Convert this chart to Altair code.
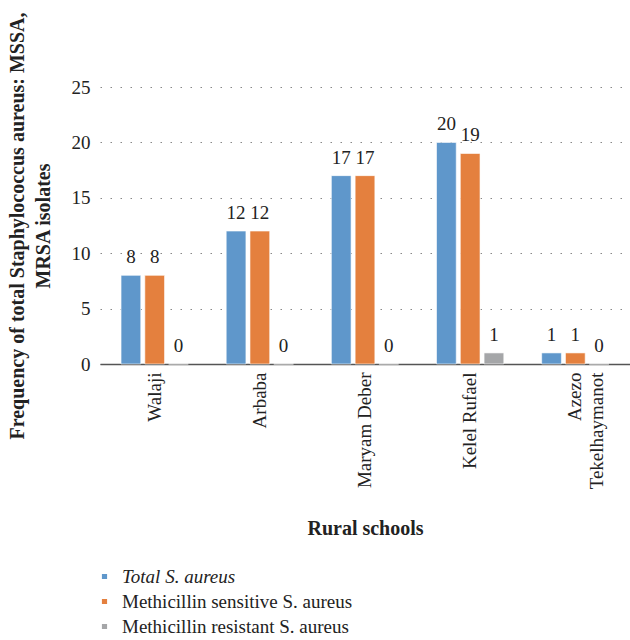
import altair as alt
import pandas as pd

schools = ["Walaji", "Arbaba", "Maryam Deber", "Kelel Rufael", "Azezo\nTekelhaymanot"]
series = ["Total S. aureus", "Methicillin sensitive S. aureus", "Methicillin resistant S. aureus"]
total = [8, 12, 17, 20, 1]
mssa = [8, 12, 17, 19, 1]
mrsa = [0, 0, 0, 1, 0]
colors = ["#5F97CB", "#E4803E", "#A5A6A8"]

rows = []
for i, s in enumerate(schools):
    for j, (name, vals) in enumerate(zip(series, [total, mssa, mrsa])):
        rows.append({"school": s, "series": name, "value": vals[i], "order": j})
df = pd.DataFrame(rows)

FONT = "Liberation Serif"
yscale = alt.Scale(domain=[0, 25], nice=False, zero=True)

x = alt.X("school:N", sort=schools,
          scale=alt.Scale(paddingInner=0.36, paddingOuter=0.2),
          axis=alt.Axis(title="Rural schools", labelAngle=270, labelAlign="right",
                        labelBaseline="middle", labelFontSize=19, labelFont=FONT,
                        labelColor="#222", labelPadding=8, ticks=False, labelLineHeight=22,
                        domainColor="#555", domainWidth=1.5, grid=False,
                        titleFont=FONT, titleFontSize=20, titleFontWeight="bold",
                        titleColor="#222", titlePadding=30,
                        labelExpr="split(datum.label, '\\n')"))
xo = alt.XOffset("series:N", sort=series,
                 scale=alt.Scale(paddingInner=0.17, paddingOuter=0))
y = alt.Y("value:Q", scale=yscale,
          axis=alt.Axis(values=[0, 5, 10, 15, 20, 25],
                        title=["Frequency of total Staphylococcus aureus: MSSA,", "MRSA isolates"],
                        domain=False, ticks=False, labelFontSize=19, labelFont=FONT,
                        labelColor="#222", labelPadding=10,
                        grid=True, gridDash=[1.5, 8.5], gridColor="#888", gridWidth=1,
                        titleFont=FONT, titleFontSize=20, titleFontWeight="bold",
                        titleColor="#222", titlePadding=18, titleLineHeight=26))
color = alt.Color("series:N", sort=series,
                  scale=alt.Scale(domain=series, range=colors),
                  legend=alt.Legend(title=None, orient="none", legendX=-5, legendY=480,
                                    direction="vertical", symbolType="square", symbolSize=45,
                                    labelFont=FONT, labelFontSize=19, labelColor="#222",
                                    rowPadding=5, labelOffset=8, labelLimit=0,
                                    labelFontStyle={"expr": "datum.label == 'Total S. aureus' ? 'italic' : 'normal'"}))

bars = alt.Chart(df).mark_bar(stroke="white", strokeWidth=0.6).encode(x=x, xOffset=xo, y=y, color=color)
labels = alt.Chart(df).mark_text(dy=-8, baseline="bottom", font=FONT, fontSize=19, color="#222").encode(
    x=alt.X("school:N", sort=schools), xOffset=alt.XOffset("series:N", sort=series),
    y=alt.Y("value:Q", scale=yscale), text="value:Q")

chart = alt.layer(bars, labels).properties(
    width=530, height=277,
    background="white",
    autosize=alt.AutoSizeParams(type="none"),
    padding={"left": 100, "top": 87, "right": 0, "bottom": 276},
).configure_view(stroke=None)

chart.save("out.html", embed_options={"renderer": "svg", "actions": False})
